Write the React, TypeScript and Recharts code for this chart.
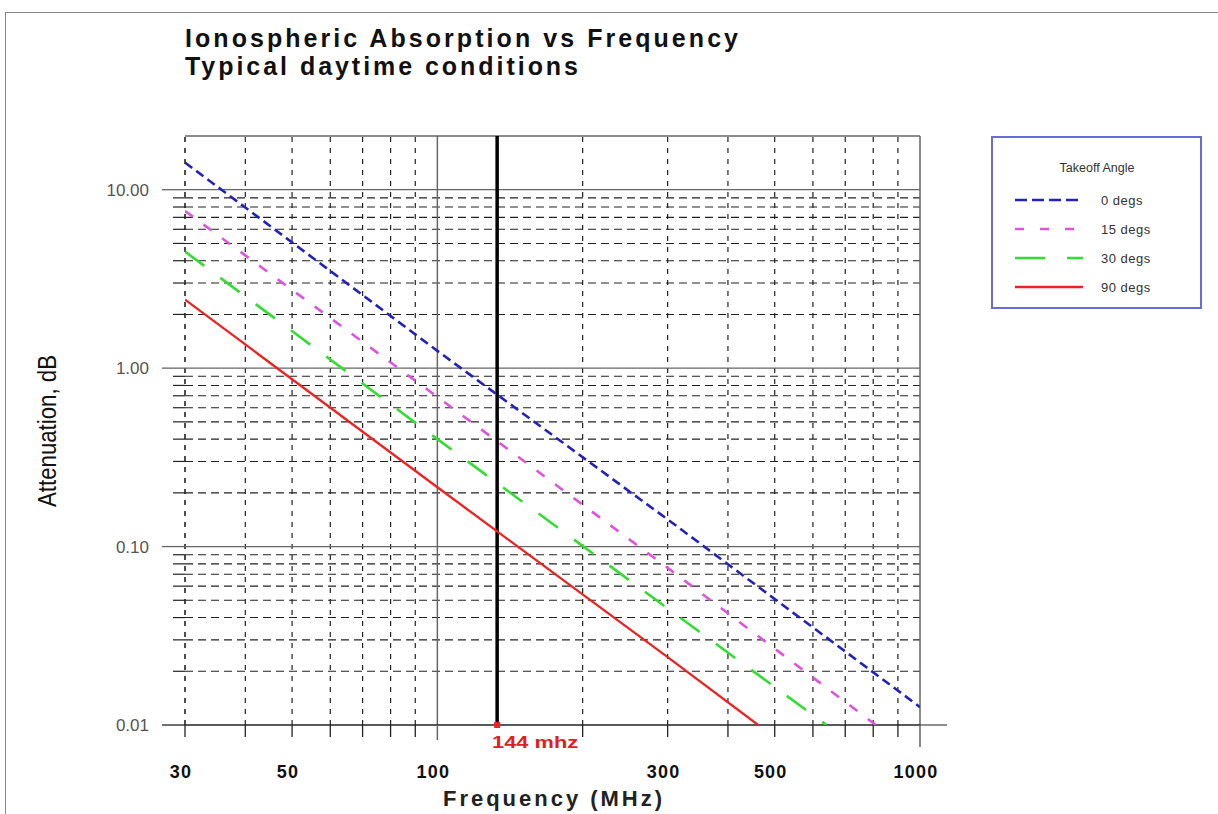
import React from 'react';
import { LineChart, Line, XAxis, YAxis, ReferenceLine } from 'recharts';

// ---- data ----
const freq0 = [30, 100, 300, 1000];
const att0 = [14.2, 1.25, 0.142, 0.0126];
const freq15 = [30, 100, 300, 810];
const att15 = [7.6, 0.69, 0.076, 0.01];
const freq30 = [30, 100, 300, 640];
const att30 = [4.5, 0.4, 0.045, 0.01];
const freq90 = [30, 100, 300, 462];
const att90 = [2.42, 0.215, 0.024, 0.01];

const seriesNames = ['0 degs', '15 degs', '30 degs', '90 degs'];
const xGridTicks = [30, 40, 50, 60, 70, 80, 90, 100, 200, 300, 400, 500, 600, 700, 800, 900, 1000];
const xLabelTicks = [30, 50, 100, 300, 500, 1000];
const xMajor = [100, 1000];
const yMinorTicks = [
  0.02, 0.03, 0.04, 0.05, 0.06, 0.07, 0.08, 0.09,
  0.2, 0.3, 0.4, 0.5, 0.6, 0.7, 0.8, 0.9,
  2, 3, 4, 5, 6, 7, 8, 9,
];
const yMajorTicks = [0.01, 0.1, 1, 10];
const yLabels = ['0.01', '0.10', '1.00', '10.00'];
const markerFreq = 133;
const markerLabel = '144 mhz';

// ---- styles ----
const seriesStyle = [
  { color: '#2323b8', dash: '9 5', width: 2.6, legendDash: '12 5' },
  { color: '#dd55dd', dash: '10 13', width: 2.6, legendDash: '9 16' },
  { color: '#33dd33', dash: '24 20', width: 2.6, legendDash: '30 22' },
  { color: '#ee2222', dash: undefined as string | undefined, width: 2.3, legendDash: undefined as string | undefined },
];

const toData = (fs: number[], as: number[]) => fs.map((f, i) => ({ f, a: as[i] }));
const seriesData = [toData(freq0, att0), toData(freq15, att15), toData(freq30, att30), toData(freq90, att90)];

const FONT = '"Liberation Sans", Arial, Helvetica, sans-serif';

const XTick = (props: any) => {
  const { x, y, payload } = props;
  const v = payload.value;
  if (v === markerFreq) {
    return (
      <g>
        <rect x={x - 3} y={y - 3} width={6} height={6} fill="#ee2222" />
        <text x={x - 5} y={y + 23} fill="#e02020" fontFamily={FONT} fontWeight="bold" fontSize={16}
          textLength={86} lengthAdjust="spacingAndGlyphs">{markerLabel}</text>
      </g>
    );
  }
  const major = xMajor.includes(v);
  const idx = xLabelTicks.indexOf(v);
  return (
    <g>
      <line x1={x} x2={x} y1={y} y2={y + (v === 1000 ? 22 : major ? 15 : 12)}
        stroke={major ? '#666' : '#222'} strokeWidth={major ? 1.5 : 1.3} />
      {v === 1000 && <line x1={x} x2={x + 27} y1={y} y2={y} stroke="#444" strokeWidth={1.2} />}
      {idx >= 0 && (
        <text x={x - 4} y={y + 53} textAnchor="middle" fill="#111" fontFamily={FONT}
          fontWeight="bold" fontSize={18} letterSpacing={1.2}>{String(v)}</text>
      )}
    </g>
  );
};

const YTick = (props: any) => {
  const { x, y, payload } = props;
  const v = payload.value;
  const mi = yMajorTicks.indexOf(v);
  if (mi >= 0) {
    return (
      <g>
        <line x1={x - 23} x2={x} y1={y} y2={y} stroke={v === 0.01 ? '#222' : '#666'} strokeWidth={1.3} />
        <text x={x - 36} y={y + 6} textAnchor="end" fill="#555" fontFamily={FONT} fontSize={17}>{yLabels[mi]}</text>
      </g>
    );
  }
  return <line x1={x - 12} x2={x} y1={y} y2={y} stroke="#222" strokeWidth={1.2} />;
};

export default function App() {
  const W = 1218;
  const H = 814;
  return (
    <div style={{ position: 'absolute', left: 0, top: 0, width: W, height: H, background: '#fff', overflow: 'hidden' }}>
      <div style={{ position: 'absolute', left: 5, top: 12, width: 1400, height: 1000, borderLeft: '1.5px solid #888', borderTop: '1.5px solid #888' }} />
      <div style={{ position: 'absolute', left: 0, top: 0 }}>
        <LineChart width={W} height={H} margin={{ top: 136, right: 298, bottom: 29, left: 125 }}>
          <XAxis type="number" dataKey="f" scale="log" domain={[30, 1000]} allowDataOverflow
            ticks={[...xGridTicks, markerFreq]} interval={0} tick={<XTick />} tickLine={false}
            axisLine={false} tickSize={0} tickMargin={0} height={60} />
          <YAxis type="number" dataKey="a" scale="log" domain={[0.01, 20]} allowDataOverflow
            ticks={[...yMajorTicks, ...yMinorTicks]} interval={0} tick={<YTick />} tickLine={false}
            axisLine={false} tickSize={0} tickMargin={0} width={60} />

          {yMinorTicks.map((v) => (
            <ReferenceLine key={'hy' + v} y={v} stroke="#222" strokeWidth={1.1} strokeDasharray="8 5" />
          ))}
          {xGridTicks.filter((v) => !xMajor.includes(v)).map((v) => (
            <ReferenceLine key={'vx' + v} x={v} stroke="#222" strokeWidth={v === 30 ? 1.6 : 1.2} strokeDasharray="5 6" />
          ))}
          {[0.1, 1, 10].map((v) => (
            <ReferenceLine key={'hm' + v} y={v} stroke="#666" strokeWidth={1.3} />
          ))}
          <ReferenceLine y={20} stroke="#666" strokeWidth={1.3} />
          {xMajor.map((v) => (
            <ReferenceLine key={'vm' + v} x={v} stroke="#666" strokeWidth={1.5} />
          ))}
          <ReferenceLine y={0.01} stroke="#222" strokeWidth={1.4} />
          <ReferenceLine x={markerFreq} stroke="#000" strokeWidth={3.5} />

          {seriesData.map((d, i) => (
            <Line key={seriesNames[i]} data={d} dataKey="a" name={seriesNames[i]} type="linear"
              stroke={seriesStyle[i].color} strokeWidth={seriesStyle[i].width}
              strokeDasharray={seriesStyle[i].dash} dot={false} activeDot={false}
              isAnimationActive={false} />
          ))}
        </LineChart>
      </div>
      <svg width={W} height={H} style={{ position: 'absolute', left: 0, top: 0, pointerEvents: 'none' }}>
        <text x={185} y={47} fontFamily={FONT} fontWeight="bold" fontSize={25} fill="#111"
          textLength={553} lengthAdjust="spacing">Ionospheric Absorption vs Frequency</text>
        <text x={185} y={75} fontFamily={FONT} fontWeight="bold" fontSize={25} fill="#111"
          textLength={393} lengthAdjust="spacing">Typical daytime conditions</text>
        <text transform="translate(56,431) rotate(-90)" textAnchor="middle" fontFamily={FONT}
          fontSize={25} fill="#111" textLength={152} lengthAdjust="spacingAndGlyphs">Attenuation, dB</text>
        <text x={443} y={806} fontFamily={FONT} fontWeight="bold" fontSize={22} fill="#222"
          textLength={219} lengthAdjust="spacing">Frequency (MHz)</text>

        <rect x={992} y={137} width={209} height={171} fill="#fff" stroke="#6a6ad8" strokeWidth={2} />
        <text x={1097} y={172} textAnchor="middle" fontFamily={FONT} fontSize={12.5} fill="#333">Takeoff Angle</text>
        {seriesNames.map((n, i) => (
          <g key={n}>
            <line x1={1015} x2={1083} y1={200 + i * 29} y2={200 + i * 29} stroke={seriesStyle[i].color}
              strokeWidth={2.5} strokeDasharray={seriesStyle[i].legendDash} />
            <text x={1101} y={205 + i * 29} fontFamily={FONT} fontSize={13} fill="#333" letterSpacing={0.5}>{n}</text>
          </g>
        ))}
      </svg>
    </div>
  );
}
